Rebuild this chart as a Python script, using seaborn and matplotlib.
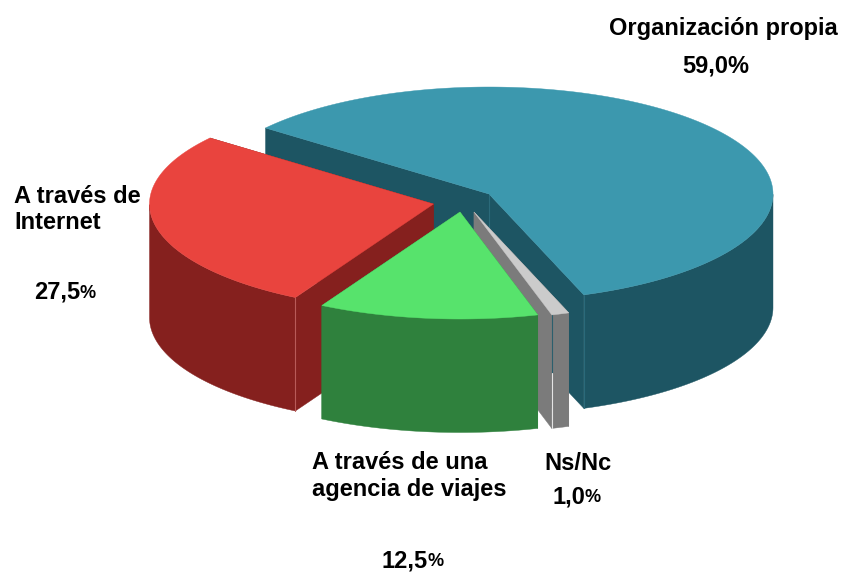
import numpy as np
import matplotlib
matplotlib.use("Agg")
import matplotlib.pyplot as plt
import seaborn as sns

# Data
labels = ["Organización propia", "Ns/Nc", "A través de una\nagencia de viajes", "A través de\nInternet"]
values = [59.0, 1.0, 12.5, 27.5]
value_labels = ["59,0", "1,0", "12,5", "27,5"]

# Styling / layout
top_colors = ["#3C98AE", "#CBCBCB", "#57E36C", "#E9443E"]
side_colors = ["#1D5563", "#7B7B7B", "#2F813D", "#85201E"]
seam_colors = ["#2B6A7A", "#2B5F6D", "#2F813D", "#B85A58"]
apex_x = [489, 474, 460, 433.5]
apex_y = [194, 212, 212, 204]
RX, RY, DEPTH = 284.0, 107.0, 113.5
START = 141.9  # first slice begins here and runs clockwise
draw_order = [0, 3, 1, 2]

sns.set_theme(style="white")
plt.rcParams["font.family"] = ["Liberation Sans", "DejaVu Sans"]

fig = plt.figure(figsize=(8.41, 5.74), dpi=100)
ax = fig.add_axes([0, 0, 1, 1])
ax.set_xlim(0, 841)
ax.set_ylim(574, 0)
ax.set_axis_off()
sns.despine(ax=ax, left=True, bottom=True)

ends = START - np.cumsum(values) * 3.6
starts = np.r_[START, ends[:-1]]


def rim(cx, cy, deg):
    t = np.radians(deg)
    return cx + RX * np.cos(t), cy - RY * np.sin(t)


for rank, i in enumerate(draw_order):
    z = 10 * (rank + 1)
    cx, cy = apex_x[i], apex_y[i]
    a0, a1 = starts[i], ends[i]
    # cut faces
    for a in (a0, a1):
        ex, ey = rim(cx, cy, a)
        ax.fill([cx, ex, ex, cx], [cy, ey, ey + DEPTH, cy + DEPTH],
                color=side_colors[i], lw=0.3, zorder=z)
    # outer wall (only the part turned toward the viewer)
    ang = np.linspace(a0, a1, 300)
    front = ang[np.sin(np.radians(ang)) <= 0]
    if front.size:
        x, y = rim(cx, cy, front)
        ax.fill(np.r_[x, x[::-1]], np.r_[y, y[::-1] + DEPTH],
                color=side_colors[i], lw=0.3, zorder=z + 1)
    # thin seams on the vertical edges
    k = int(np.argmin(np.sin(np.radians([a0, a1]))))
    ex, ey = rim(cx, cy, [a0, a1][k])
    if i == 3:
        ax.plot([ex, ex], [ey, ey + DEPTH], color=seam_colors[i], lw=0.8, zorder=z + 2)
    if i == 0:
        ax.plot([cx, cx], [cy, cy + DEPTH], color=seam_colors[i], lw=0.8, zorder=z + 2)
        ax.plot([ex, ex], [ey, ey + DEPTH], color=seam_colors[i], lw=0.8, zorder=z + 2)
    if i == 1:
        ex, ey = rim(cx, cy, a1)
        ax.plot([ex, ex], [ey, ey + DEPTH * 0.51], color=seam_colors[i], lw=0.8, zorder=z + 2)
        ax.plot([ex, ex], [ey + DEPTH * 0.51, ey + DEPTH], color="#E4E4E4", lw=0.8, zorder=z + 2)
    # top
    x, y = rim(cx, cy, ang)
    ax.fill(np.r_[cx, x], np.r_[cy, y], color=top_colors[i], lw=0.3, zorder=z + 3)

FS = 17.0
FS_PCT = 13.0
kw = dict(fontweight="bold", color="black", zorder=100)
ax.text(723.5, 28, labels[0], ha="center", va="center", fontsize=FS, **kw)
ax.text(716, 66, value_labels[0] + "%", ha="center", va="center", fontsize=FS, **kw)

ax.text(14, 209.5, labels[3], ha="left", va="center", fontsize=FS, linespacing=1.2, **kw)
ax.text(80, 292.5, value_labels[3], ha="right", va="center", fontsize=FS, **kw)
ax.text(80, 293.5, "%", ha="left", va="center", fontsize=FS_PCT, **kw)

ax.text(312, 476, labels[2], ha="left", va="center", fontsize=FS, linespacing=1.2, **kw)
ax.text(428, 561, value_labels[2], ha="right", va="center", fontsize=FS, **kw)
ax.text(428, 562, "%", ha="left", va="center", fontsize=FS_PCT, **kw)

ax.text(578, 463, labels[1], ha="center", va="center", fontsize=FS, **kw)
ax.text(585, 497, value_labels[1], ha="right", va="center", fontsize=FS, **kw)
ax.text(585, 498, "%", ha="left", va="center", fontsize=FS_PCT, **kw)

fig.savefig("out.png", dpi=100, facecolor="white")
